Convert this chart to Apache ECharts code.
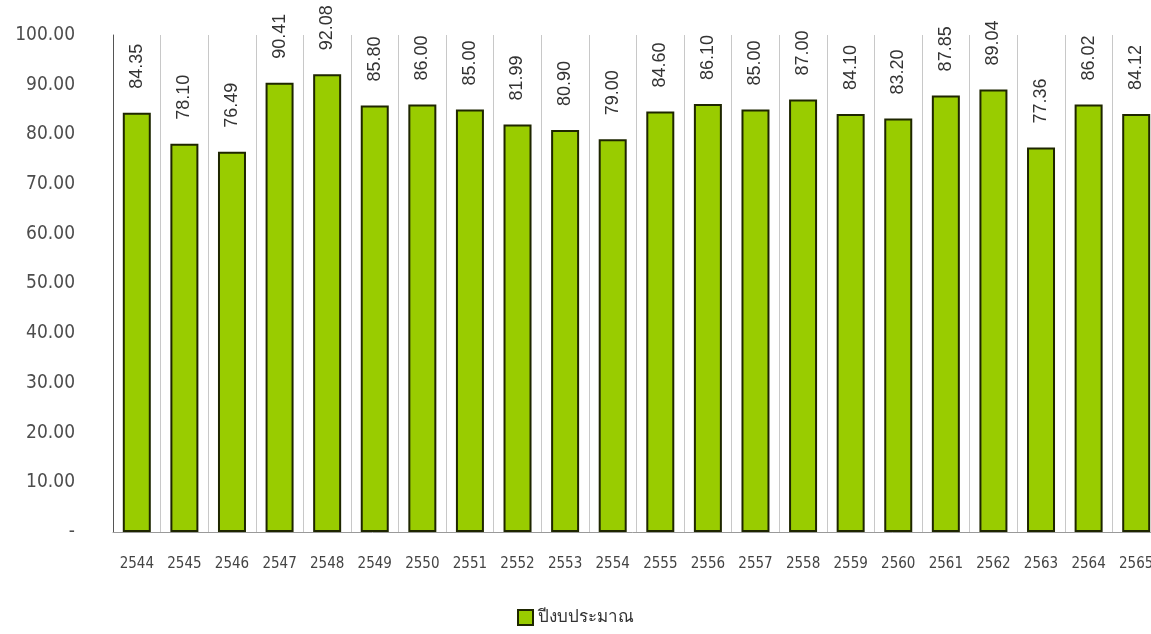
<!DOCTYPE html>
<html>
<head>
<meta charset="utf-8">
<script src="https://cdn.jsdelivr.net/npm/echarts@6/dist/echarts.min.js"></script>
<style>
html,body{margin:0;padding:0;background:#fff;overflow:hidden;}
#chart{width:1151px;height:634px;}
</style>
</head>
<body>
<div id="chart"></div>
<script>
const categories = ['2544','2545','2546','2547','2548','2549','2550','2551','2552','2553','2554','2555','2556','2557','2558','2559','2560','2561','2562','2563','2564','2565'];
const values = [84.35,78.10,76.49,90.41,92.08,85.80,86.00,85.00,81.99,80.90,79.00,84.60,86.10,85.00,87.00,84.10,83.20,87.85,89.04,77.36,86.02,84.12];
const seriesName = 'ปีงบประมาณ';
const yTicks = [0,10,20,30,40,50,60,70,80,90,100];

const chart = echarts.init(document.getElementById('chart'));
chart.setOption({
  animation: false,
  backgroundColor: '#ffffff',
  grid: { left: 113, width: 1047, top: 35, bottom: 102, containLabel: false, outerBoundsMode: 'none' },
  legend: {
    data: [{ name: seriesName, icon: 'rect' }],
    left: 'center',
    bottom: 3,
    itemWidth: 15,
    itemHeight: 15,
    itemGap: 8,
    textStyle: { fontFamily: 'Tahoma, "DejaVu Sans Condensed", sans-serif', fontSize: 17, color: '#333' }
  },
  xAxis: {
    type: 'category',
    data: categories,
    boundaryGap: true,
    axisLine: { show: true, lineStyle: { color: '#9a9a9a', width: 1 } },
    axisTick: { show: false },
    axisLabel: { interval: 0, margin: 25, color: '#444', fontFamily: '"DejaVu Sans Condensed", sans-serif', fontSize: 15 },
    splitLine: { show: true, interval: 0, lineStyle: { color: '#c8c8c8', width: 1 } }
  },
  yAxis: {
    type: 'value',
    min: yTicks[0],
    max: yTicks[yTicks.length - 1],
    interval: 10,
    axisLine: { show: true, lineStyle: { color: '#555', width: 1 } },
    axisTick: { show: false },
    splitLine: { show: false },
    axisLabel: {
      margin: 38,
      color: '#4d4d4d',
      fontFamily: '"DejaVu Sans Condensed", sans-serif',
      fontSize: 19,
      formatter: v => v === 0 ? '-' : v.toFixed(2)
    }
  },
  series: [{
    name: seriesName,
    type: 'bar',
    data: values,
    barWidth: 28,
    itemStyle: { color: '#99cc00', borderColor: '#1e2600', borderWidth: 2 },
    label: {
      show: true,
      position: 'top',
      distance: 24,
      rotate: 90,
      align: 'left',
      verticalAlign: 'middle',
      color: '#333',
      fontFamily: '"Liberation Sans", Arial, sans-serif',
      fontSize: 18,
      formatter: p => p.value.toFixed(2)
    }
  }]
});
</script>
</body>
</html>
